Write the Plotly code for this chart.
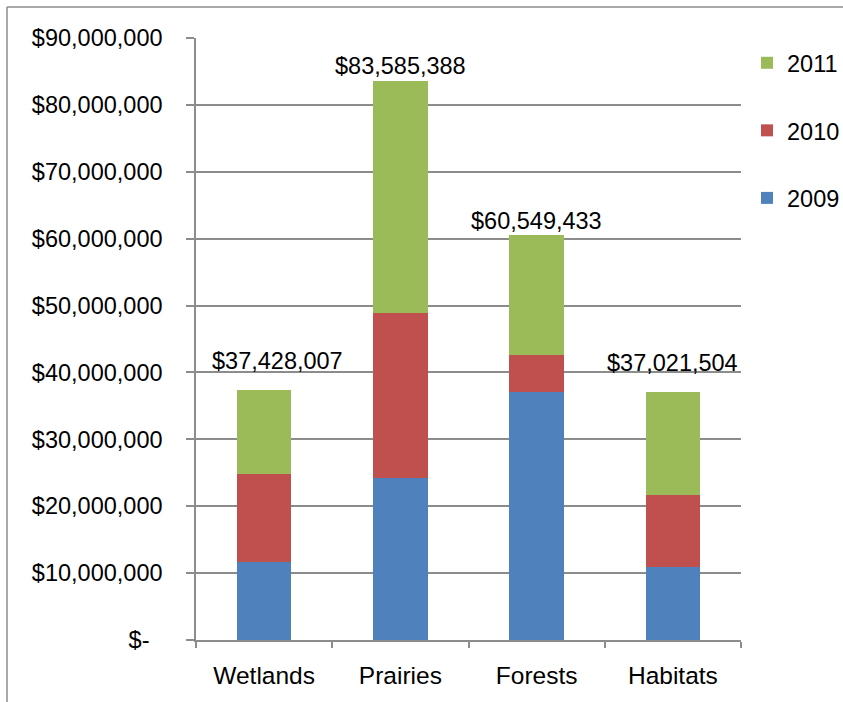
import plotly.graph_objects as go

categories = ["Wetlands", "Prairies", "Forests", "Habitats"]
years = ["2009", "2010", "2011"]
v2009 = [11_720_000, 24_200_000, 37_130_000, 10_880_000]
v2010 = [13_030_000, 24_650_000, 5_430_000, 10_780_000]
totals = [37_428_007, 83_585_388, 60_549_433, 37_021_504]
v2011 = [t - a - b for t, a, b in zip(totals, v2009, v2010)]
total_labels = ["$37,428,007", "$83,585,388", "$60,549,433", "$37,021,504"]
y_tickvals = [0, 10_000_000, 20_000_000, 30_000_000, 40_000_000, 50_000_000,
              60_000_000, 70_000_000, 80_000_000, 90_000_000]
y_ticktext = ["$-\u00a0\u00a0", "$10,000,000", "$20,000,000", "$30,000,000", "$40,000,000",
              "$50,000,000", "$60,000,000", "$70,000,000", "$80,000,000", "$90,000,000"]

colors = ["#4F81BD", "#C0504D", "#9BBB59"]
ranks = [3, 2, 1]
FONT = "Liberation Sans"
FS = 23.5
GRID = "#8c8c8c"

fig = go.Figure()
for name, vals, col, rk in zip(years, [v2009, v2010, v2011], colors, ranks):
    fig.add_trace(go.Bar(x=categories, y=vals, name=name, marker_color=col,
                         marker_line_width=0, legendgroup=name, legendrank=rk))

label_xshift = [13, 0, 0, 0]
label_yshift = [14, 0, -1, 14]
for c, t, lab, xs, ys in zip(categories, totals, total_labels, label_xshift, label_yshift):
    fig.add_annotation(x=c, y=t, text=lab, showarrow=False, yanchor="bottom",
                       xshift=xs, yshift=ys, font=dict(family=FONT, size=FS, color="#000"))

L, R, T, B = 196, 102, 38, 62
W, H = 843, 702
pw, ph = W - L - R, H - T - B
bx0 = (7 - L) / pw
by0 = (H - B - 7) / ph
fig.add_shape(type="line", xref="paper", yref="paper", x0=bx0, x1=(W + 20 - L) / pw,
              y0=by0, y1=by0, line=dict(color=GRID, width=1.5))
fig.add_shape(type="line", xref="paper", yref="paper", x0=bx0, x1=bx0,
              y0=by0, y1=-(B + 20) / ph, line=dict(color=GRID, width=1.5))

fig.update_layout(
    width=W, height=H,
    margin=dict(l=L, r=R, t=T, b=B, autoexpand=False),
    barmode="stack", bargap=0.6,
    plot_bgcolor="white", paper_bgcolor="white",
    font=dict(family=FONT, size=FS, color="#000"),
    legend=dict(x=1.011, y=0.995, xanchor="left", yanchor="top",
                traceorder="grouped", tracegroupgap=34,
                font=dict(family=FONT, size=FS), itemwidth=30),
    xaxis=dict(type="category", showline=True, linecolor=GRID, linewidth=1.5,
               ticks="outside", ticklen=6, tickcolor=GRID, tickwidth=1.5,
               tickson="boundaries", showgrid=False, ticklabelstandoff=13,
               tickfont=dict(size=24.5)),
    yaxis=dict(range=[0, 90_000_000], tickvals=y_tickvals, ticktext=y_ticktext,
               showgrid=True, gridcolor=GRID, gridwidth=1.5,
               showline=True, linecolor=GRID, linewidth=1.5,
               ticks="outside", ticklen=8, tickcolor=GRID, tickwidth=1.5,
               zeroline=False, ticklabelstandoff=19),
)

fig.write_html("out.html")
